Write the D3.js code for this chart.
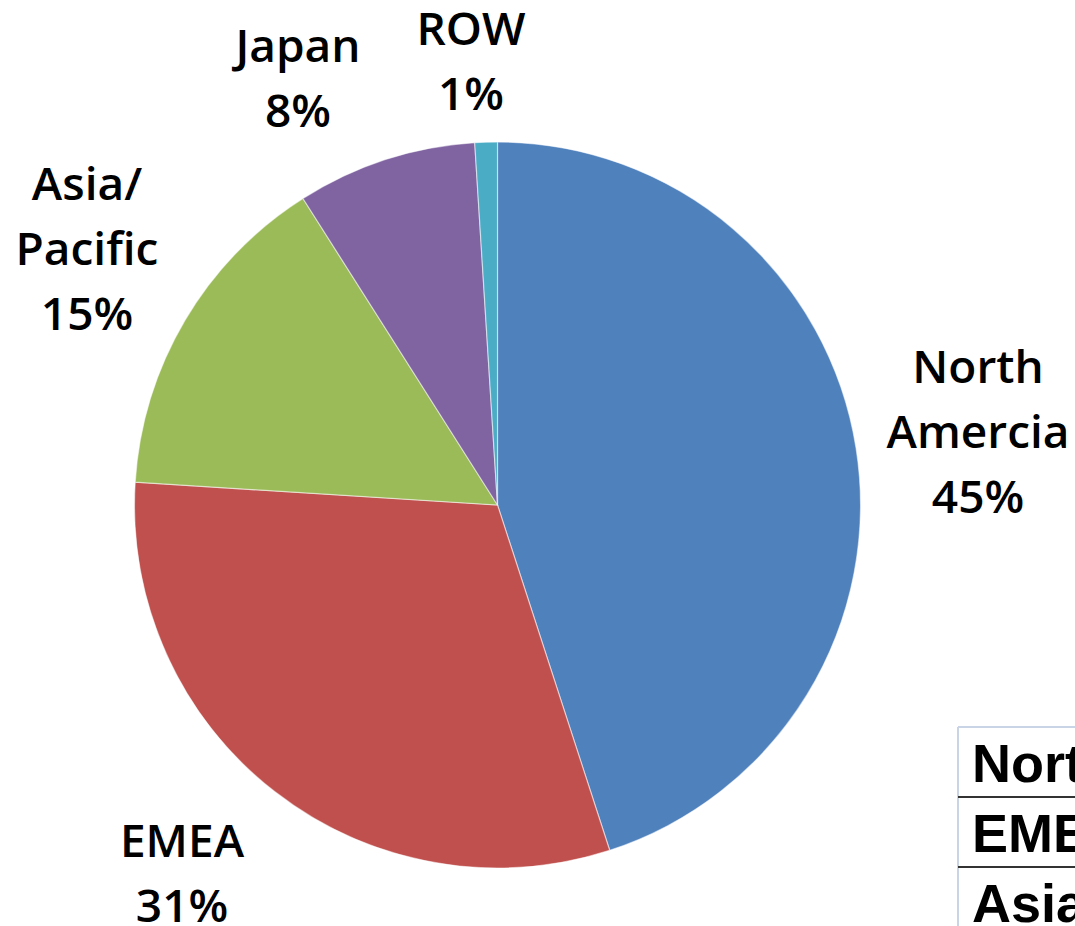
<!DOCTYPE html>
<html>
<head>
<meta charset="utf-8">
<script src="https://cdn.jsdelivr.net/npm/d3@7"></script>
<style>
  html, body { margin: 0; padding: 0; background: #fff; overflow: hidden; }
  svg { display: block; }
  text { font-variant-ligatures: none; }
</style>
</head>
<body>
<svg id="chart" width="1075" height="926"></svg>
<script>
// Regional share, clockwise from 12 o'clock
const regions = ["North America", "EMEA", "Asia/Pacific", "Japan", "ROW"];
const shares = [45, 31, 15, 8, 1];
const labelLines = [["North", "Amercia"], ["EMEA"], ["Asia/", "Pacific"], ["Japan"], ["ROW"]];
const colors = ["#4F81BD", "#C0504D", "#9BBB59", "#8064A2", "#4BACC6"];
// label anchor: x centre and baseline of first line
const labelPos = [[978, 383], [182, 857], [87, 200], [298, 62], [471, 45]];
const tableRows = ["North America", "EMEA", "Asia/Pacific"];

const svg = d3.select("#chart");
const cx = 497.5, cy = 505, r = 363;

const data = regions.map((name, i) => ({ name, value: shares[i], color: colors[i], lines: labelLines[i], pos: labelPos[i] }));

const pie = d3.pie().value(d => d.value).sort(null);
const arc = d3.arc().innerRadius(0).outerRadius(r);

const g = svg.append("g").attr("transform", `translate(${cx},${cy})`);
g.selectAll("path.slice")
  .data(pie(data))
  .join("path")
  .attr("class", "slice")
  .attr("d", arc)
  .attr("fill", d => d.data.color)
  .attr("stroke", "#ffffff")
  .attr("stroke-opacity", 0.5)
  .attr("stroke-width", 1.2);

// Data labels: category lines then percentage
const lineH = 65;
const labels = svg.append("g")
  .attr("font-family", "'Open Sans', Lato, sans-serif")
  .attr("font-weight", 600)
  .attr("font-size", 46)
  .attr("fill", "#000")
  .attr("text-anchor", "middle");

data.forEach(d => {
  const t = labels.append("text").attr("x", d.pos[0]).attr("y", d.pos[1]);
  const lines = d.lines.concat([d.value + "%"]);
  lines.forEach((ln, k) => {
    t.append("tspan").attr("x", d.pos[0]).attr("y", d.pos[1] + k * lineH).text(ln);
  });
});

// Data table at lower right
const tx = 958, ty = 727, rowH = 70;
const tbl = svg.append("g");
tbl.append("line").attr("x1", tx).attr("x2", 1075).attr("y1", ty).attr("y2", ty)
  .attr("stroke", "#c9d5e6").attr("stroke-width", 2);
tbl.append("line").attr("x1", tx).attr("x2", tx).attr("y1", ty).attr("y2", 926)
  .attr("stroke", "#c9d5e6").attr("stroke-width", 2);
tableRows.forEach((name, i) => {
  const y0 = ty + i * rowH;
  if (i > 0) {
    tbl.append("line").attr("x1", tx).attr("x2", 1075).attr("y1", y0).attr("y2", y0)
      .attr("stroke", "#333").attr("stroke-width", 2);
  }
  tbl.append("text")
    .attr("x", 972).attr("y", y0 + 55)
    .attr("font-family", "'Liberation Sans', Arial, sans-serif")
    .attr("font-weight", "bold")
    .attr("font-size", 54)
    .attr("fill", "#000")
    .text(name);
});
</script>
</body>
</html>
